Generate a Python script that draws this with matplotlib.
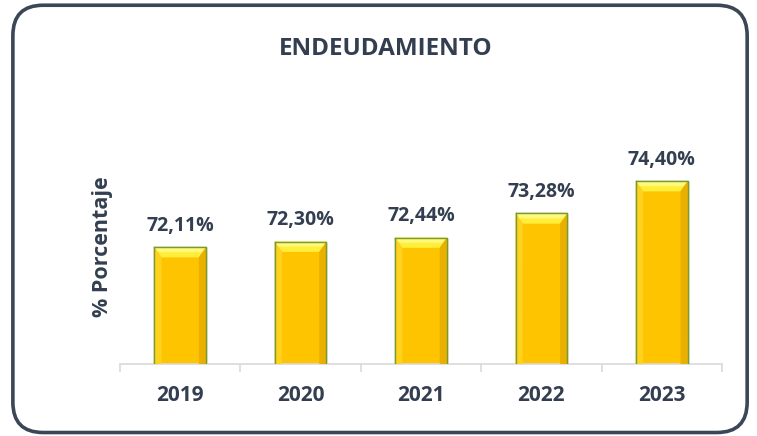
import matplotlib.pyplot as plt
import numpy as np
from matplotlib.patches import FancyBboxPatch, Polygon

years = ["2019", "2020", "2021", "2022", "2023"]
values = [72.11, 72.30, 72.44, 73.28, 74.40]
labels = ["72,11%", "72,30%", "72,44%", "73,28%", "74,40%"]

txt_color = "#333f50"
plt.rcParams['font.family'] = ['Open Sans', 'DejaVu Sans']

fig = plt.figure(figsize=(7.57, 4.36), dpi=100)
fig.patch.set_facecolor("white")

# rounded outer frame
frame = FancyBboxPatch((0.017, 0.008), 0.970, 0.980, boxstyle="round,pad=0,rounding_size=0.04",
                       transform=fig.transFigure, facecolor="none", edgecolor="#3b4656",
                       linewidth=2.6, mutation_aspect=757/436)
fig.patches.append(frame)

ax = fig.add_axes([0.1585, 0.1651, 0.7953, 0.5367])
x = np.arange(len(years))
bars = ax.bar(x, values, width=0.43, color="#FFC400", edgecolor="#7a9a2e", linewidth=1.0, zorder=2)

ax.set_xlim(-0.5, len(years) - 0.5)
ax.set_ylim(68.05, 76.17)

# bevel effect on each bar
for b in bars:
    x0, y0 = b.get_x(), b.get_y()
    w, h = b.get_width(), b.get_height()
    top = y0 + h
    bw = w * 0.14
    bh = 0.36
    ax.add_patch(Polygon([(x0, top), (x0 + w, top), (x0 + w - bw, top - bh), (x0 + bw, top - bh)],
                         closed=True, facecolor="#FFEE3A", edgecolor="none", zorder=3))
    ax.add_patch(Polygon([(x0, top), (x0 + w, top), (x0 + w - bw * 0.5, top - bh * 0.5), (x0 + bw * 0.5, top - bh * 0.5)],
                         closed=True, facecolor="#FFF87A", edgecolor="none", zorder=3))
    ax.add_patch(Polygon([(x0 + w, top), (x0 + w, y0), (x0 + w - bw * 0.8, y0), (x0 + w - bw, top - bh)],
                         closed=True, facecolor="#E9B000", edgecolor="none", zorder=3))
    ax.add_patch(Polygon([(x0, top), (x0, y0), (x0 + bw * 0.6, y0), (x0 + bw, top - bh)],
                         closed=True, facecolor="#FFD21F", edgecolor="none", zorder=3))
    ax.plot([x0, x0 + w, x0 + w, x0, x0], [top, top, y0, y0, top], color="#7a9a2e", lw=1.0, zorder=4)

for xi, v, lab in zip(x, values, labels):
    ax.annotate(lab, (xi, v), xytext=(0, 8), textcoords="offset points", ha="center", va="bottom",
                fontsize=14, fontweight="bold", color=txt_color)

for s in ["top", "right", "left"]:
    ax.spines[s].set_visible(False)
ax.spines["bottom"].set_color("#d9d9d9")
ax.spines["bottom"].set_linewidth(1.2)
ax.set_yticks([])
ax.set_xticks(np.arange(-0.5, len(years)), minor=False)
ax.set_xticklabels([])
ax.tick_params(axis="x", length=6, color="#d9d9d9", width=1.2)
ax.set_xticks(x, minor=True)
ax.set_xticklabels(years, minor=True)
ax.tick_params(axis="x", which="minor", length=0, pad=15, labelsize=15, labelcolor=txt_color)
for t in ax.get_xticklabels(minor=True):
    t.set_fontweight("bold")

ax.set_ylabel("% Porcentaje", fontsize=15.5, fontweight="bold", color=txt_color)
ax.yaxis.set_label_coords(-0.012, 0.5)

fig.text(0.509, 0.888, "ENDEUDAMIENTO", ha="center", va="center", fontsize=17.5,
         fontweight="bold", color=txt_color)

fig.savefig("out.png", dpi=100)
